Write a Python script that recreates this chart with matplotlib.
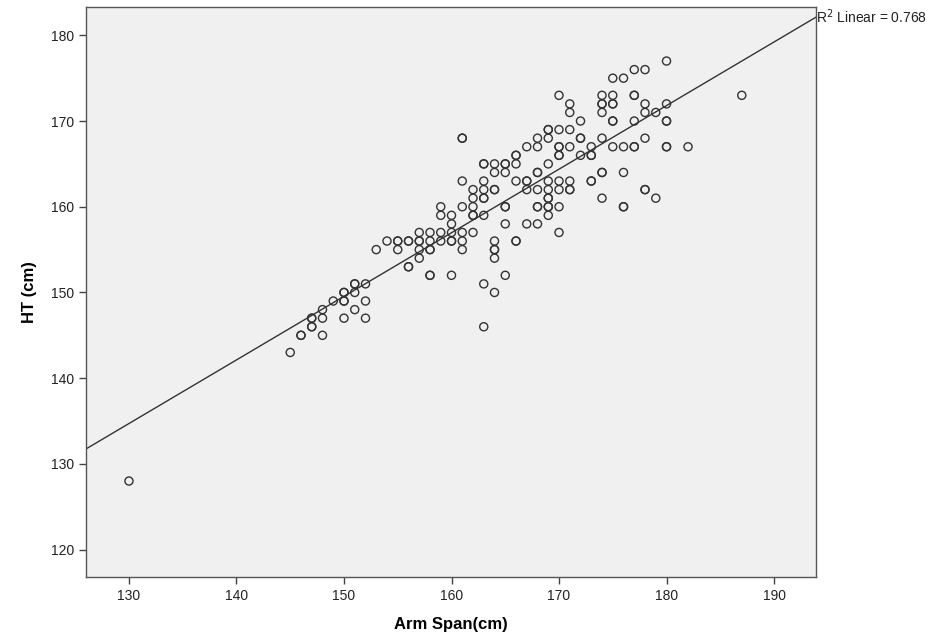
import matplotlib
matplotlib.use("Agg")
import matplotlib.pyplot as plt
import numpy as np

plt.rcParams['font.family'] = ['Liberation Sans', 'DejaVu Sans']

# (arm span, height) pairs; repeated pairs appear as bolder circles
arm_span = [130,
            145, 146, 146, 147, 147, 147, 147, 148, 148, 148, 149,
            150, 150, 150, 150, 150, 151, 151, 151, 151, 152, 152, 152,
            153, 154, 155, 155, 155, 156, 156, 156, 156,
            157, 157, 157, 157, 157, 158, 158, 158, 158, 158, 158,
            159, 159, 159, 159, 160, 160, 160, 160, 160, 160,
            161, 161, 161, 161, 161, 161, 161,
            162, 162, 162, 162, 162, 162,
            163, 163, 163, 163, 163, 163, 163, 163, 163,
            164, 164, 164, 164, 164, 164, 164, 164, 164,
            165, 165, 165, 165, 165, 165, 165,
            166, 166, 166, 166, 166, 166,
            167, 167, 167, 167, 167,
            168, 168, 168, 168, 168, 168, 168, 168,
            169, 169, 169, 169, 169, 169, 169, 169, 169, 169, 169,
            170, 170, 170, 170, 170, 170, 170, 170, 170, 170,
            171, 171, 171, 171, 171, 171, 171,
            172, 172, 172, 172,
            173, 173, 173, 173, 173,
            174, 174, 174, 174, 174, 174, 174, 174,
            175, 175, 175, 175, 175, 175, 175,
            176, 176, 176, 176, 176,
            177, 177, 177, 177, 177, 177,
            178, 178, 178, 178, 178, 178,
            179, 179,
            180, 180, 180, 180, 180, 180,
            182, 187]
height = [128,
          143, 145, 145, 146, 146, 147, 147, 145, 147, 148, 149,
          147, 149, 149, 150, 150, 148, 150, 151, 151, 147, 149, 151,
          155, 156, 155, 156, 156, 153, 153, 156, 156,
          154, 155, 156, 156, 157, 152, 152, 155, 155, 156, 157,
          156, 157, 159, 160, 152, 156, 156, 157, 158, 159,
          155, 156, 157, 160, 163, 168, 168,
          157, 159, 159, 160, 161, 162,
          146, 151, 159, 161, 161, 162, 163, 165, 165,
          150, 154, 155, 155, 156, 162, 162, 164, 165,
          152, 158, 160, 160, 164, 165, 165,
          156, 156, 163, 165, 166, 166,
          158, 162, 163, 163, 167,
          158, 160, 160, 162, 164, 164, 167, 168,
          159, 160, 160, 161, 161, 162, 163, 165, 168, 169, 169,
          157, 160, 162, 163, 166, 166, 167, 167, 169, 173,
          162, 162, 163, 167, 169, 171, 172,
          166, 168, 168, 170,
          163, 163, 166, 166, 167,
          161, 164, 164, 168, 171, 172, 172, 173,
          167, 170, 170, 172, 172, 173, 175,
          160, 160, 164, 167, 175,
          167, 167, 170, 173, 173, 176,
          162, 162, 168, 171, 172, 176,
          161, 171,
          167, 167, 170, 170, 172, 177,
          167, 173]

x_ticks = [130, 140, 150, 160, 170, 180, 190]
y_ticks = [120, 130, 140, 150, 160, 170, 180]
x_range = (126.0, 193.9)
y_range = (116.8, 183.3)
r2_label = "R$^2$ Linear = 0.768"

x = np.array(arm_span, dtype=float)
y = np.array(height, dtype=float)

fig = plt.figure(figsize=(9.51, 6.40), dpi=100)
ax = fig.add_axes([0.0904, 0.0984, 0.7676, 0.8906])
ax.set_facecolor('#f0f0f0')

ax.scatter(x, y, s=34, facecolors='none', edgecolors='#333333', linewidths=1.0,
           zorder=3)

slope, intercept = np.polyfit(x, y, 1)
xs = np.array(x_range)
ax.plot(xs, slope * xs + intercept, color='#333333', lw=1.0, zorder=2)

ax.set_xlim(*x_range)
ax.set_ylim(*y_range)
ax.set_xticks(x_ticks)
ax.set_yticks(y_ticks)
ax.tick_params(direction='out', length=5, width=1, colors='#444444',
               labelsize=10, labelcolor='#222222')
for s in ax.spines.values():
    s.set_color('#555555')
    s.set_linewidth(1.0)

ax.set_xlabel('Arm Span(cm)', fontsize=12, fontweight='bold', labelpad=10)
ax.set_ylabel('HT (cm)', fontsize=12, fontweight='bold', labelpad=10)

ax.text(x_range[1], slope * x_range[1] + intercept, r2_label,
        fontsize=10, ha='left', va='center', clip_on=False, color='#222222')

fig.savefig('out.png', dpi=100)
